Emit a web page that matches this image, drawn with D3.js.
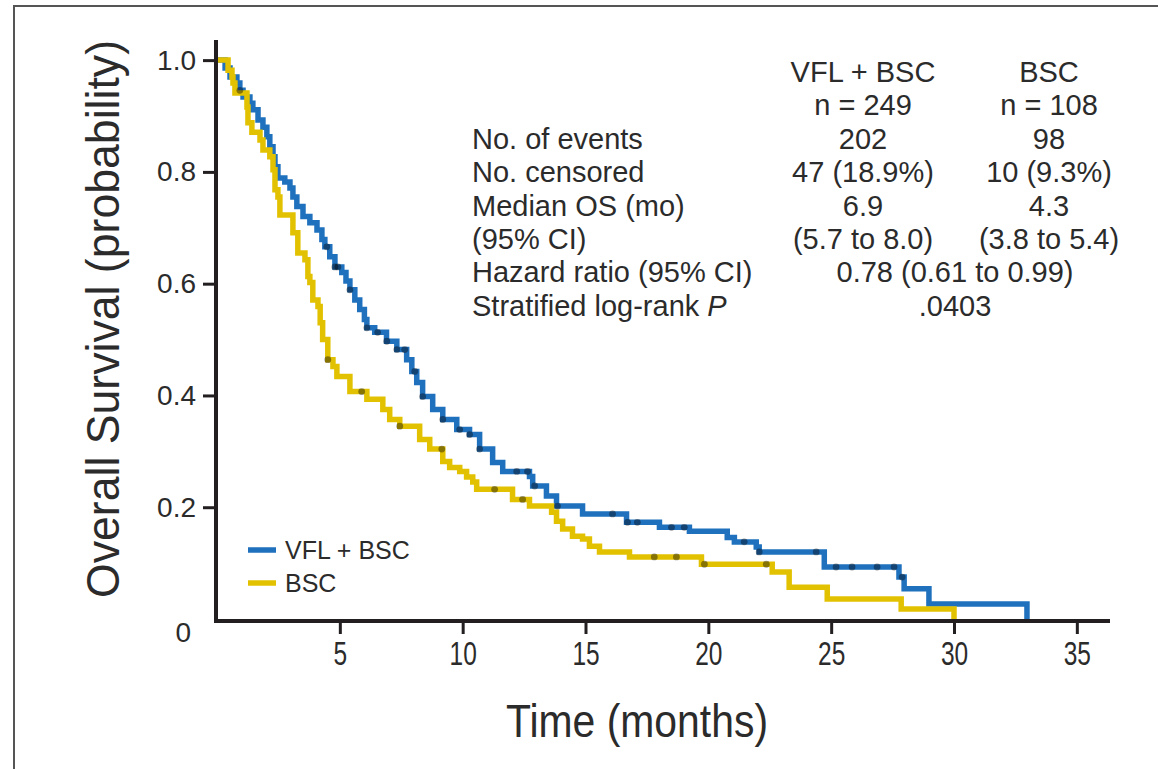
<!DOCTYPE html>
<html>
<head>
<meta charset="utf-8">
<script src="https://cdn.jsdelivr.net/npm/d3@7/dist/d3.min.js"></script>
<style>
  html, body { margin: 0; padding: 0; background: #fff; }
  svg { display: block; font-family: "Liberation Sans", Arial, Helvetica, sans-serif; }
</style>
</head>
<body>
<svg id="chart" width="1158" height="769"></svg>
<script>
// ---- Data ----
const seriesNames = ["VFL + BSC", "BSC"];
const seriesColors = ["#1f71be", "#e2c200"];

// Kaplan-Meier steps: time (months) at which survival drops, and new survival value
const vflTimes = [0, 0.33, 0.53, 0.81, 0.93, 1.06, 1.34, 1.46, 1.67, 1.87, 2.03, 2.15, 2.28, 2.36, 2.48, 2.76, 2.97, 3.09, 3.25, 3.50, 3.78, 4.07, 4.27, 4.39, 4.59, 4.80, 5.08, 5.25, 5.41, 5.61, 5.81, 6.00, 6.10, 6.42, 6.90, 7.32, 7.72, 7.93, 8.13, 8.37, 8.78, 9.19, 9.76, 10.28, 10.69, 11.22, 11.63, 12.72, 12.85, 13.41, 13.82, 14.88, 16.67, 18.01, 19.23, 20.77, 21.06, 21.95, 22.07, 24.72, 27.76, 27.97, 28.98, 32.97];
const vflSurv  = [1, 0.986, 0.970, 0.959, 0.946, 0.934, 0.923, 0.911, 0.893, 0.880, 0.863, 0.845, 0.827, 0.809, 0.789, 0.782, 0.771, 0.755, 0.738, 0.720, 0.709, 0.696, 0.679, 0.666, 0.648, 0.630, 0.620, 0.605, 0.589, 0.571, 0.554, 0.536, 0.521, 0.513, 0.497, 0.482, 0.464, 0.443, 0.423, 0.398, 0.375, 0.357, 0.339, 0.330, 0.304, 0.280, 0.264, 0.255, 0.238, 0.220, 0.202, 0.188, 0.173, 0.164, 0.157, 0.146, 0.138, 0.129, 0.120, 0.093, 0.075, 0.054, 0.027, 0];

const bscTimes = [0, 0.45, 0.61, 0.65, 0.73, 1.22, 1.26, 1.42, 1.75, 1.87, 2.15, 2.28, 2.36, 2.48, 2.56, 3.09, 3.29, 3.58, 3.70, 3.78, 3.90, 4.11, 4.20, 4.30, 4.51, 4.72, 4.88, 5.41, 6.10, 6.75, 7.03, 7.44, 8.25, 8.66, 9.19, 9.47, 9.88, 10.16, 10.41, 10.57, 12.03, 12.72, 13.62, 13.82, 14.07, 14.47, 14.88, 15.16, 15.57, 16.79, 19.72, 22.60, 23.29, 24.84, 27.85, 30.00];
const bscSurv  = [1, 0.982, 0.970, 0.959, 0.941, 0.916, 0.888, 0.871, 0.857, 0.839, 0.827, 0.804, 0.768, 0.755, 0.723, 0.691, 0.655, 0.643, 0.613, 0.602, 0.571, 0.559, 0.530, 0.500, 0.464, 0.452, 0.434, 0.407, 0.393, 0.375, 0.357, 0.345, 0.321, 0.304, 0.282, 0.271, 0.264, 0.254, 0.245, 0.232, 0.214, 0.202, 0.191, 0.175, 0.161, 0.148, 0.143, 0.130, 0.120, 0.111, 0.098, 0.084, 0.057, 0.036, 0.018, 0];

// Censoring times (months)
const vflCensor = [0.93, 4.47, 4.80, 4.92, 5.41, 6.10, 6.54, 6.91, 7.32, 7.64, 8.05, 8.37, 9.19, 9.88, 10.28, 10.69, 12.20, 12.64, 12.93, 13.86, 16.10, 16.71, 17.11, 18.50, 19.02, 21.46, 22.07, 24.39, 25.20, 25.85, 26.87, 27.56, 27.89];
const bscCensor = [4.51, 5.89, 7.44, 9.15, 11.30, 12.44, 17.80, 18.70, 19.84, 22.36];

// Axis ticks
const xTicks = [5, 10, 15, 20, 25, 30, 35];
const yTicks = [0.2, 0.4, 0.6, 0.8, 1.0];

// Summary table
const tableHeader1 = ["VFL + BSC", "BSC"];
const tableHeader2 = ["n = 249", "n = 108"];
const tableLabels = ["No. of events", "No. censored", "Median OS (mo)", "(95% CI)", "Hazard ratio (95% CI)", "Stratified log-rank "];
const tableCol1 = ["202", "47 (18.9%)", "6.9", "(5.7 to 8.0)"];
const tableCol2 = ["98", "10 (9.3%)", "4.3", "(3.8 to 5.4)"];
const tableMerged = ["0.78 (0.61 to 0.99)", ".0403"];

// ---- Drawing ----
const svg = d3.select("#chart");
const ink = "#231f20";
const txt = "#2b2b2b";

// frame
svg.append("path").attr("d", "M14,769V6H1158").attr("fill", "none").attr("stroke", "#555").attr("stroke-width", 2);

const x = d3.scaleLinear().domain([0, 36.35]).range([217, 1110]);
const y = d3.scaleLinear().domain([0, 1.036]).range([619, 40]);

const line = d3.line().x(d => x(d[0])).y(d => y(d[1])).curve(d3.curveStepAfter);
const series = [
  { times: vflTimes, surv: vflSurv, censor: vflCensor, color: seriesColors[0] },
  { times: bscTimes, surv: bscSurv, censor: bscCensor, color: seriesColors[1] }
];
function survAt(s, t) {
  let v = 1;
  for (let i = 0; i < s.times.length; i++) { if (s.times[i] <= t + 1e-9) v = s.surv[i]; else break; }
  return v;
}

// curves
series.forEach(s => {
  const pts = s.times.map((t, i) => [t, s.surv[i]]);
  svg.append("path").attr("d", line(pts)).attr("fill", "none")
    .attr("stroke", s.color).attr("stroke-width", 5.5).attr("stroke-linejoin", "miter").attr("stroke-linecap", "butt");
});
series.forEach(s => {
  svg.append("g").selectAll("circle").data(s.censor).join("circle")
    .attr("cx", d => x(d)).attr("cy", d => y(survAt(s, d)))
    .attr("r", 3.4).attr("fill", "#000").attr("fill-opacity", 0.4);
});

// axes
const yAxis = d3.axisLeft(y).tickValues(yTicks).tickSize(13).tickPadding(7).tickFormat(d3.format(".1f"));
const gy = svg.append("g").attr("transform", "translate(216,0)").call(yAxis);
gy.select(".domain").remove();
gy.selectAll(".tick line").attr("stroke", ink).attr("stroke-width", 3);
gy.selectAll(".tick text").attr("fill", txt).style("font-size", "28px").style("font-family", "'Liberation Sans', Arial, sans-serif");

const xAxis = d3.axisBottom(x).tickValues(xTicks).tickSize(13).tickPadding(7).tickFormat(d3.format("d"));
const gx = svg.append("g").attr("transform", "translate(0,621)").call(xAxis);
gx.select(".domain").remove();
gx.selectAll(".tick line").attr("stroke", ink).attr("stroke-width", 3);
gx.selectAll(".tick text").attr("fill", txt).style("font-size", "34px")
  .style("font-family", "'Liberation Sans', Arial, sans-serif").attr("transform", "scale(0.72,1)");

// axis lines
svg.append("line").attr("x1", 216).attr("x2", 216).attr("y1", y(1.036)).attr("y2", 623)
  .attr("stroke", ink).attr("stroke-width", 4);
svg.append("line").attr("x1", 214).attr("x2", x(36.35)).attr("y1", 621).attr("y2", 621)
  .attr("stroke", ink).attr("stroke-width", 4);

// shared origin label
svg.append("text").attr("x", 191).attr("y", 642).attr("text-anchor", "end")
  .attr("fill", txt).style("font-size", "28px").text("0");

// axis titles
svg.append("text").attr("transform", "translate(119,319) rotate(-90)").attr("text-anchor", "middle")
  .attr("fill", txt).style("font-size", "46px").attr("textLength", 558).attr("lengthAdjust", "spacingAndGlyphs")
  .text("Overall Survival (probability)");
svg.append("text").attr("x", 637).attr("y", 737).attr("text-anchor", "middle")
  .attr("fill", txt).style("font-size", "46px").attr("textLength", 262).attr("lengthAdjust", "spacingAndGlyphs")
  .text("Time (months)");

// legend
const leg = svg.append("g");
seriesNames.forEach((n, i) => {
  const ly = 550 + i * 33;
  leg.append("line").attr("x1", 248).attr("x2", 276).attr("y1", ly).attr("y2", ly)
    .attr("stroke", seriesColors[i]).attr("stroke-width", 5.5);
  leg.append("text").attr("x", 285).attr("y", ly + 9).attr("fill", txt).style("font-size", "25px").text(n);
});

// summary table
const tb = svg.append("g").attr("fill", txt).style("font-size", "29px");
const rowY = i => 82 + i * 33.4;
const c1 = 863, c2 = 1049, cm = 955, lx = 472;
tableHeader1.forEach((t, i) => tb.append("text").attr("x", i ? c2 : c1).attr("y", rowY(0)).attr("text-anchor", "middle").text(t));
tableHeader2.forEach((t, i) => tb.append("text").attr("x", i ? c2 : c1).attr("y", rowY(1)).attr("text-anchor", "middle").text(t));
tableLabels.forEach((t, i) => {
  const el = tb.append("text").attr("x", lx).attr("y", rowY(i + 2)).text(t);
  if (i === tableLabels.length - 1) el.append("tspan").style("font-style", "italic").text("P");
});
tableCol1.forEach((t, i) => tb.append("text").attr("x", c1).attr("y", rowY(i + 2)).attr("text-anchor", "middle").text(t));
tableCol2.forEach((t, i) => tb.append("text").attr("x", c2).attr("y", rowY(i + 2)).attr("text-anchor", "middle").text(t));
tableMerged.forEach((t, i) => tb.append("text").attr("x", cm).attr("y", rowY(i + 6)).attr("text-anchor", "middle").text(t));
</script>
</body>
</html>
